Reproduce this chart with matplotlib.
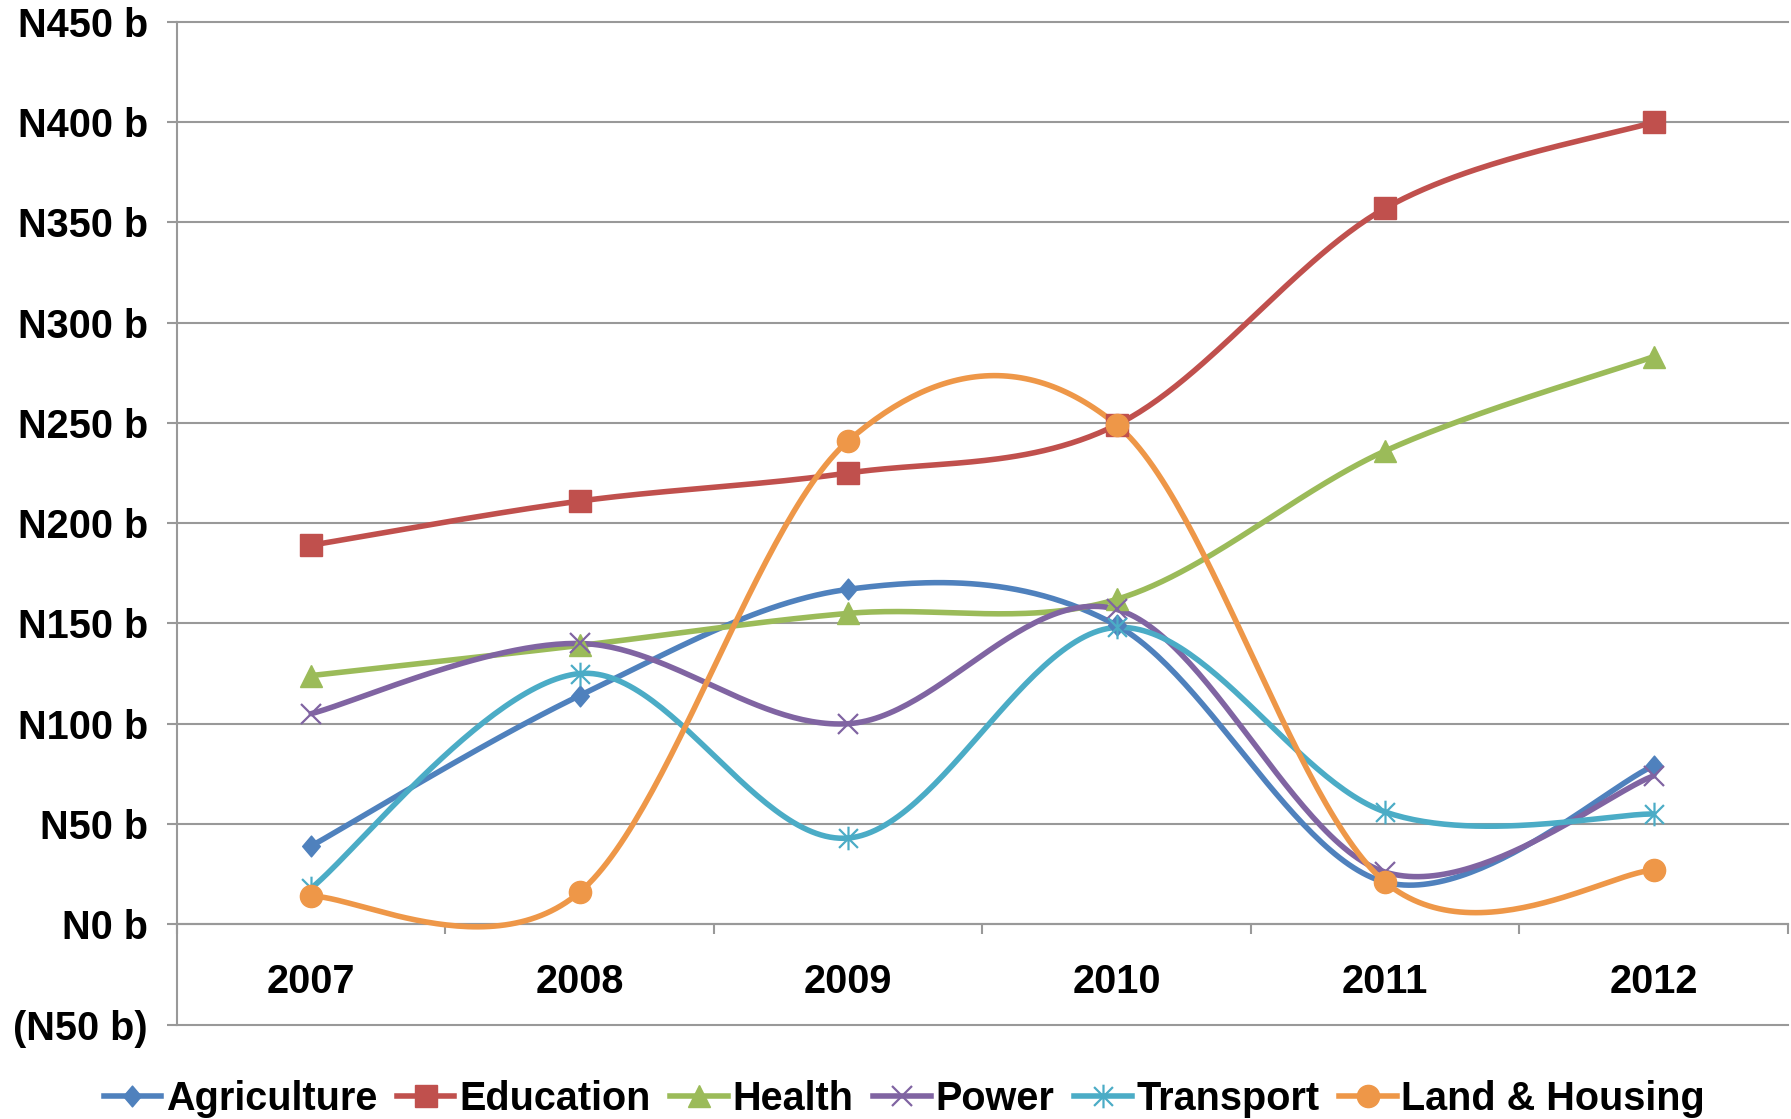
import numpy as np
import matplotlib

matplotlib.use("Agg")

import matplotlib.pyplot as plt
from matplotlib.path import Path
from matplotlib.ticker import FixedLocator, FuncFormatter, NullFormatter

plt.rcParams["font.family"] = ["Liberation Sans", "DejaVu Sans"]
plt.rcParams["font.weight"] = "bold"

years = ["2007", "2008", "2009", "2010", "2011", "2012"]

agriculture = [39, 114, 167, 149, 21, 79]
education = [189, 211, 225, 249, 357, 400]
health = [124, 139, 155, 162, 236, 283]
power = [105, 140, 100, 157, 26, 74]
transport = [18, 125, 43, 148, 56, 55]
land_housing = [14, 16, 241, 249, 21, 27]

series_names = ["Agriculture", "Education", "Health", "Power", "Transport", "Land & Housing"]
series_values = [agriculture, education, health, power, transport, land_housing]
colors = ["#4F81BD", "#C0504D", "#9BBB59", "#8064A2", "#4BACC6", "#EE9748"]

# asterisk marker: two diagonals plus a vertical bar
asterisk = Path(
    [(-1, -1), (1, 1), (-1, 1), (1, -1), (0, -1.25), (0, 1.25)],
    [Path.MOVETO, Path.LINETO, Path.MOVETO, Path.LINETO, Path.MOVETO, Path.LINETO],
)
# slightly narrow diamond
diamond = Path([(0, 1), (0.85, 0), (0, -1), (-0.85, 0), (0, 1)],
               [Path.MOVETO, Path.LINETO, Path.LINETO, Path.LINETO, Path.CLOSEPOLY])
markers = [
    dict(marker=diamond, ms=15),
    dict(marker="s", ms=15.5),
    dict(marker="^", ms=16),
    dict(marker="x", ms=15, mew=1.6, mfc="none"),
    dict(marker=asterisk, ms=17, mew=1.6, mfc="none"),
    dict(marker="o", ms=16),
]
LW = 4.0


def smooth(xs, ys, n=60):
    """Catmull-Rom style cubic Bezier through the points (spreadsheet 'smoothed line')."""
    pts = np.column_stack([xs, ys]).astype(float)
    out = []
    t = np.linspace(0, 1, n)[:, None]
    for i in range(len(pts) - 1):
        p0, p3 = pts[i], pts[i + 1]
        prev = pts[i - 1] if i > 0 else pts[i]
        nxt = pts[i + 2] if i + 2 < len(pts) else pts[i + 1]
        c1 = p0 + (p3 - prev) / 6.0
        c2 = p3 - (nxt - p0) / 6.0
        seg = ((1 - t) ** 3) * p0 + 3 * ((1 - t) ** 2) * t * c1 + 3 * (1 - t) * t ** 2 * c2 + t ** 3 * p3
        out.append(seg if i == 0 else seg[1:])
    seg = np.vstack(out)
    return seg[:, 0], seg[:, 1]


fig = plt.figure(figsize=(17.91, 11.19), dpi=100)
ax = fig.add_axes([0.0988, 0.0844, 0.8995, 0.8962])

x = np.arange(1, len(years) + 1)
for name, vals, col, mk in zip(series_names, series_values, colors, markers):
    sx, sy = smooth(x, vals)
    ax.plot(sx, sy, color=col, lw=LW, solid_capstyle="round", zorder=3)
    mk = dict(mk)
    mfc = mk.pop("mfc", col)
    ax.plot(x, vals, ls="None", color=col, mfc=mfc, mec=col, zorder=4, **mk)

ax.set_xlim(0.5, 6.5)
ax.set_ylim(-50, 450)

grid_c = "#999999"
ax.yaxis.set_major_locator(FixedLocator(np.arange(-50, 451, 50)))
ax.yaxis.set_major_formatter(FuncFormatter(
    lambda v, p: f"N{v:.0f} b" if v >= 0 else f"(N{-v:.0f} b)"))
ax.yaxis.grid(True, color=grid_c, lw=1.5)
for gl in ax.get_ygridlines():
    gl.set_clip_on(False)
ax.set_axisbelow(True)

ax.xaxis.set_major_locator(FixedLocator(np.arange(0.5, 6.6, 1)))
ax.xaxis.set_major_formatter(NullFormatter())
ax.xaxis.set_minor_locator(FixedLocator(x))
ax.xaxis.set_minor_formatter(FuncFormatter(lambda v, p: years[int(round(v)) - 1]))

ax.spines["top"].set_visible(False)
ax.spines["right"].set_visible(False)
ax.spines["bottom"].set_position(("data", 0))
for s in ("left", "bottom"):
    ax.spines[s].set_color(grid_c)
    ax.spines[s].set_linewidth(1.5)

ax.tick_params(axis="y", which="major", length=7, width=1.5, color=grid_c,
               pad=14, labelsize=28.5, direction="out")
ax.tick_params(axis="x", which="major", length=7, width=1.5, color=grid_c, direction="out")
ax.tick_params(axis="x", which="minor", length=0, pad=28, labelsize=28.5)

legend_handles = [
    plt.Line2D([], [], color=c, lw=LW, marker=m["marker"], ms=m["ms"],
               mew=m.get("mew", 1.0), mfc=m.get("mfc", c), mec=c)
    for c, m in zip(colors, markers)
]
fig.legend(handles=legend_handles, labels=series_names, loc="center",
           bbox_to_anchor=(0.505, 0.018), ncol=6, frameon=False, fontsize=28.5,
           handlelength=1.45, handletextpad=0.12, columnspacing=0.5, borderaxespad=0)

fig.savefig("out.png", dpi=100, facecolor="white")
